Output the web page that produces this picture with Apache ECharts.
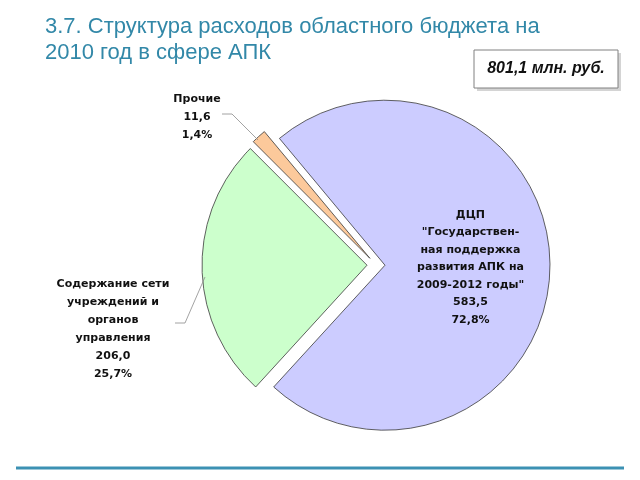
<!DOCTYPE html>
<html>
<head>
<meta charset="utf-8">
<script src="https://cdn.jsdelivr.net/npm/echarts@6/dist/echarts.min.js"></script>
<style>
html,body{margin:0;padding:0;background:#fff;}
#chart{width:640px;height:480px;}
</style>
</head>
<body>
<div id="chart"></div>
<script>
var titleText = '3.7. Структура расходов областного бюджета на\n2010 год в сфере АПК';
var totalText = '801,1 млн. руб.';
var categories = [
  'Прочие',
  'ДЦП\n"Государствен-\nная поддержка\nразвития АПК на\n2009-2012 годы"',
  'Содержание сети\nучреждений и\nорганов\nуправления'
];
var values = [11.6, 583.5, 206.0];
var colors = ['#fcc99b', '#ccccff', '#ccffcc'];

var total = values.reduce(function (a, b) { return a + b; }, 0);
function fmt(v, d) { return v.toFixed(d).replace('.', ','); }
function labelText(i) {
  return categories[i] + '\n' + fmt(values[i], 1) + '\n' + fmt(values[i] / total * 100, 1) + '%';
}

var labelFont = {fontFamily: 'DejaVu Sans', fontWeight: 'bold', fontSize: 11, lineHeight: 18, fill: '#111'};
// outside label placement (layout only)
var outsideLabels = [
  {idx: 0, x: 197, y: 117, line: [[258, 140], [232, 114], [222, 114]]},
  {idx: 2, x: 113, y: 329, line: [[205, 277], [185, 323], [175, 323]]}
];

var chart = echarts.init(document.getElementById('chart'), null, {renderer: 'canvas'});
var data = categories.map(function (c, i) {
  return {
    name: c, value: values[i], selected: true,
    itemStyle: {color: colors[i]},
    label: {show: i === 1}
  };
});

var graphics = [
  {type: 'rect', shape: {x: 477, y: 53, width: 144, height: 38}, style: {fill: '#d4d4d4'}, z: 1},
  {type: 'rect', shape: {x: 474, y: 50, width: 144, height: 38}, style: {fill: '#fff', stroke: '#808080', lineWidth: 1}, z: 2},
  {type: 'text', x: 546, y: 69, z: 3, style: {text: totalText, align: 'center', verticalAlign: 'middle', fontFamily: 'Liberation Sans', fontWeight: 'bold', fontStyle: 'italic', fontSize: 16, fill: '#111'}},
  {type: 'line', shape: {x1: 16, y1: 468, x2: 624, y2: 468}, style: {stroke: '#3c91b3', lineWidth: 3}}
];
outsideLabels.forEach(function (o) {
  graphics.push({type: 'polyline', shape: {points: o.line}, style: {stroke: '#8c8c8c', lineWidth: 0.8, fill: null}, z: 5});
  graphics.push({type: 'text', x: o.x, y: o.y, z: 5, style: Object.assign({text: labelText(o.idx), align: 'center', verticalAlign: 'middle'}, labelFont)});
});

chart.setOption({
  animation: false,
  title: {
    text: titleText,
    left: 40, top: 9,
    textStyle: {fontFamily: 'Liberation Sans', fontWeight: 'normal', fontSize: 22, lineHeight: 26, color: '#3288a8'}
  },
  graphic: graphics,
  series: [{
    type: 'pie',
    center: [376, 265],
    radius: 165,
    startAngle: 135,
    clockwise: true,
    selectedMode: 'multiple',
    selectedOffset: 9,
    avoidLabelOverlap: false,
    data: data,
    itemStyle: {borderColor: '#3a3a3a', borderWidth: 0.8},
    select: {itemStyle: {borderColor: '#3a3a3a', borderWidth: 0.8}},
    emphasis: {disabled: true},
    label: {
      position: 'inside',
      fontFamily: 'DejaVu Sans',
      fontWeight: 'bold',
      fontSize: 11,
      lineHeight: 17.5,
      color: '#111',
      align: 'center',
      formatter: function (p) { return labelText(p.dataIndex); }
    },
    labelLine: {show: false}
  }]
});
</script>
</body>
</html>
